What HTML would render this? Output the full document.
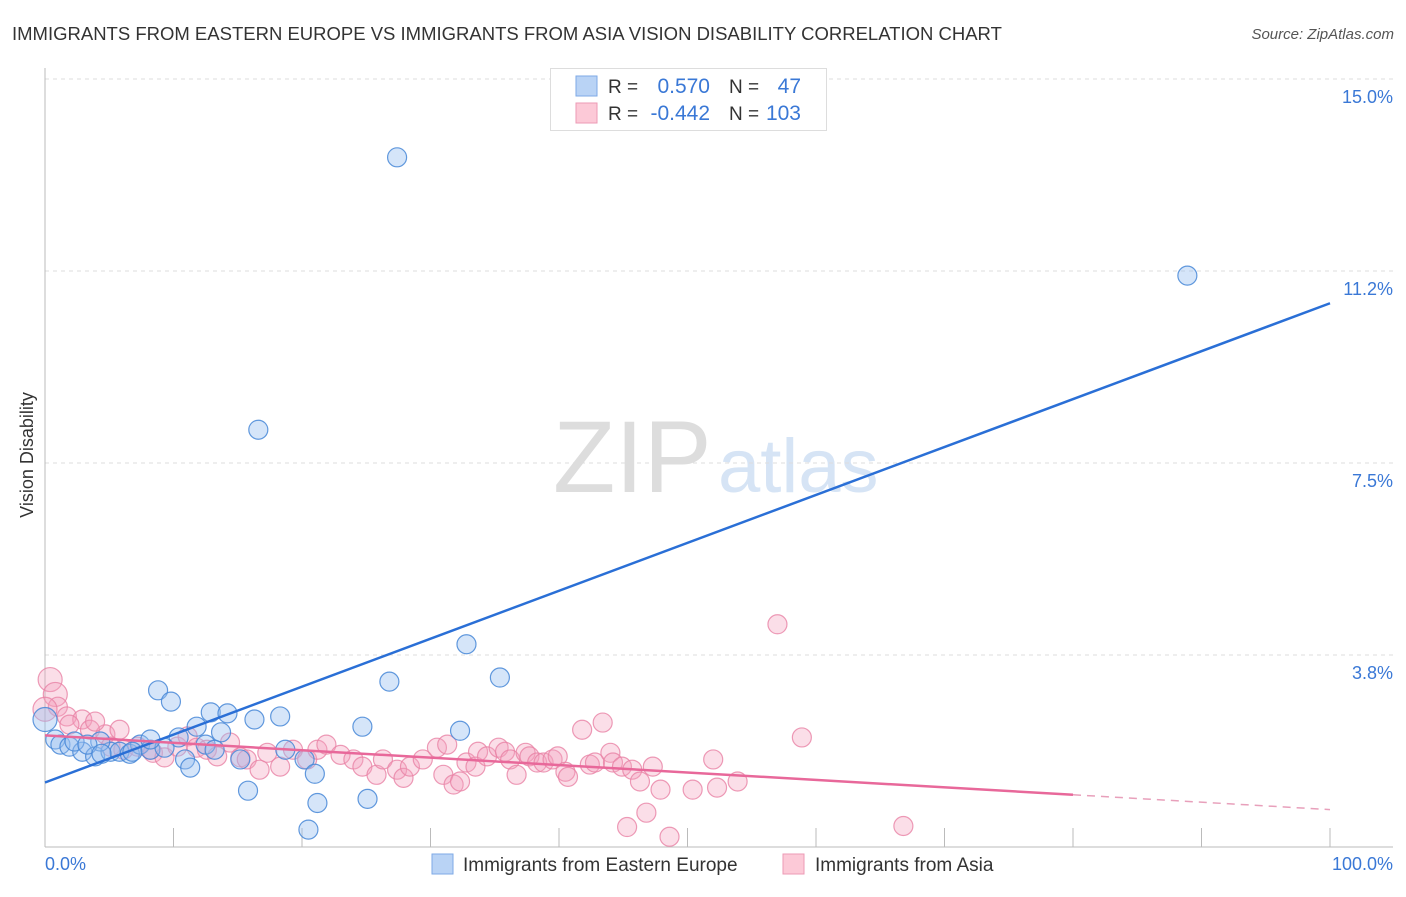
<!DOCTYPE html>
<html><head><meta charset="utf-8"><style>
body{margin:0;background:#fff;font-family:"Liberation Sans",sans-serif;}
svg text{font-family:"Liberation Sans",sans-serif;}
</style></head><body>
<svg id="chart" width="1406" height="892" viewBox="0 0 1406 892" xmlns="http://www.w3.org/2000/svg">
<text x="12" y="40" font-size="18.5" fill="#333">IMMIGRANTS FROM EASTERN EUROPE VS IMMIGRANTS FROM ASIA VISION DISABILITY CORRELATION CHART</text>
<text x="1394" y="39" font-size="15" fill="#555" font-style="italic" text-anchor="end">Source: ZipAtlas.com</text>
<g>
<text x="553" y="492" font-size="102" fill="#ddd" font-family="Liberation Serif">ZIP</text>
<text x="718" y="492" font-size="76" fill="#d6e4f5">atlas</text>
</g>
<g id="grid"></g>
<g id="axes"></g>
<g id="points"></g>
<g id="lines"></g>
<text x="33" y="455" font-size="18" fill="#333" text-anchor="middle" transform="rotate(-90 33 455)">Vision Disability</text>
<text x="45" y="870" font-size="18" fill="#3a78d6">0.0%</text>
<text x="1393" y="870" font-size="18" fill="#3a78d6" text-anchor="end">100.0%</text>
<g>
<rect x="550.5" y="68.5" width="276" height="62" fill="#fff" stroke="#ddd"/>
<rect x="576" y="76" width="21" height="20" fill="#b9d3f5" stroke="#7ea9e6"/>
<rect x="576" y="103" width="21" height="20" fill="#fcc9d7" stroke="#ec9ab4"/>
<text x="608" y="93" font-size="19" fill="#333">R =</text>
<text x="710" y="93" font-size="21" fill="#3a78d6" text-anchor="end">0.570</text>
<text x="729" y="93" font-size="19" fill="#333">N =</text>
<text x="801" y="93" font-size="21" fill="#3a78d6" text-anchor="end">47</text>
<text x="608" y="120" font-size="19" fill="#333">R =</text>
<text x="710" y="120" font-size="21" fill="#3a78d6" text-anchor="end">-0.442</text>
<text x="729" y="120" font-size="19" fill="#333">N =</text>
<text x="801" y="120" font-size="21" fill="#3a78d6" text-anchor="end">103</text>
</g>
<g>
<rect x="432" y="854" width="21" height="20" fill="#b9d3f5" stroke="#7ea9e6"/>
<text x="463" y="871" font-size="19" fill="#333">Immigrants from Eastern Europe</text>
<rect x="783" y="854" width="21" height="20" fill="#fcc9d7" stroke="#ec9ab4"/>
<text x="815" y="871" font-size="19" fill="#333">Immigrants from Asia</text>
</g>
</svg>
<script>
const yTicks=[15,11.25,7.5,3.75];
const yTickLabels=["15.0%","11.2%","7.5%","3.8%"];
const xTicks=[10,20,30,40,50,60,70,80,90,100];
const blueX=[27.4,88.9,16.6,32.8,26.8,35.4,8.8,9.8,12.9,14.2,16.3,18.3,24.7,32.3,11.8,13.7,10.4,0.8,1.2,1.9,2.9,3.9,5.1,5.8,6.6,7.4,8.2,9.3,10.9,11.3,12.5,13.2,15.2,18.7,20.2,21.0,15.8,21.2,25.1,20.5,0.0,4.3,6.8,8.2,2.3,3.3,4.4];
const blueY=[13.47,11.16,8.15,3.96,3.23,3.31,3.06,2.84,2.63,2.61,2.49,2.55,2.35,2.27,2.35,2.24,2.14,2.10,2.00,1.96,1.86,1.77,1.86,1.86,1.82,2.00,1.90,1.94,1.71,1.55,2.00,1.90,1.71,1.90,1.71,1.43,1.10,0.86,0.94,0.34,2.49,2.06,1.86,2.10,2.06,2.00,1.82];
const pinkX=[0.4,0.8,1.0,1.7,2.9,3.5,4.7,5.8,5.1,6.1,7.2,8.2,8.4,9.3,10.3,11.1,11.8,12.6,13.4,14.4,15.2,15.7,16.7,17.3,18.3,19.3,20.4,21.2,21.9,23.0,24.0,24.7,25.8,26.3,27.4,27.9,28.4,29.4,30.5,31.3,31.0,31.8,32.3,32.8,33.5,33.7,34.4,35.3,35.8,36.2,36.7,37.4,37.7,38.3,38.8,39.5,39.9,40.5,40.7,41.8,43.4,42.4,42.8,44.0,44.2,44.9,45.7,46.3,47.3,47.9,46.8,45.3,48.6,50.4,52.0,52.3,53.9,57.0,58.9,66.8,0.0,1.9,3.9];
const pinkY=[3.27,2.98,2.74,2.55,2.49,2.29,2.20,2.29,1.96,1.90,1.96,1.90,1.84,1.75,1.96,2.16,1.94,1.90,1.77,2.04,1.75,1.71,1.51,1.84,1.57,1.90,1.71,1.90,2.00,1.80,1.71,1.57,1.41,1.71,1.51,1.35,1.57,1.71,1.94,2.00,1.41,1.22,1.28,1.65,1.57,1.86,1.77,1.94,1.86,1.71,1.41,1.84,1.77,1.65,1.65,1.71,1.77,1.47,1.37,2.29,2.43,1.61,1.65,1.84,1.65,1.57,1.51,1.28,1.57,1.12,0.67,0.39,0.20,1.12,1.71,1.16,1.28,4.35,2.14,0.41,2.69,2.39,2.45];
const blueTrend=[1.26,10.62];
const pinkTrend=[2.18,0.73];
const pinkSolidEnd=80;

const NS="http://www.w3.org/2000/svg";
const X0=45,X1=1330,Y0=847,Y15=79;
const sx=v=>X0+v/100*(X1-X0);
const sy=v=>Y0-v/15*(Y0-Y15);
function mk(tag,attrs,parent){const e=document.createElementNS(NS,tag);for(const k in attrs)e.setAttribute(k,attrs[k]);parent.appendChild(e);return e;}
const grid=document.getElementById('grid'),axes=document.getElementById('axes'),pts=document.getElementById('points'),lines=document.getElementById('lines');
yTicks.forEach((t,i)=>{
 const l=mk('line',{x1:X0,x2:1393,y1:sy(t),y2:sy(t),stroke:'#ddd','stroke-dasharray':'4,4'},grid);
 
 
 const tx=mk('text',{x:1393,y:sy(t)+24,'font-size':18,fill:'#3a78d6','text-anchor':'end'},grid);
 tx.textContent=yTickLabels[i];
 
 
});
const ax=mk('line',{x1:X0,x2:1393,y1:Y0,y2:Y0,stroke:'#bbb'},axes);


const ay=mk('line',{x1:X0,x2:X0,y1:68,y2:Y0,stroke:'#bbb'},axes);


xTicks.forEach(t=>{
 const l=mk('line',{x1:sx(t),x2:sx(t),y1:Y0-19,y2:Y0,stroke:'#bbb'},axes);
 
 
});
function dots(xs,ys,fill,stroke,name){
 xs.forEach((x,i)=>{
  const r=(x<1&&ys[i]>2.3)?12:9.5;
  const c=mk('circle',{cx:sx(x),cy:sy(ys[i]),r:r,fill:fill,stroke:stroke,'stroke-width':1.2},pts);
  
  
 });
}
dots(pinkX,pinkY,'rgba(244,160,190,0.35)','rgba(232,130,165,0.8)','asia-point');
dots(blueX,blueY,'rgba(150,190,240,0.4)','rgba(70,135,215,0.85)','eastern-europe-point');
const bl=mk('line',{x1:sx(0),y1:sy(blueTrend[0]),x2:sx(100),y2:sy(blueTrend[1]),stroke:'#2a6fd6','stroke-width':2.5},lines);


const pAt=v=>pinkTrend[0]+(pinkTrend[1]-pinkTrend[0])*v/100;
const pl=mk('line',{x1:sx(0),y1:sy(pAt(0)),x2:sx(pinkSolidEnd),y2:sy(pAt(pinkSolidEnd)),stroke:'#e8689a','stroke-width':2.5},lines);


const pd=mk('line',{x1:sx(pinkSolidEnd),y1:sy(pAt(pinkSolidEnd)),x2:sx(100),y2:sy(pAt(100)),stroke:'#e8a0bb','stroke-width':1.5,'stroke-dasharray':'8,6'},lines);


</script>
</body></html>
